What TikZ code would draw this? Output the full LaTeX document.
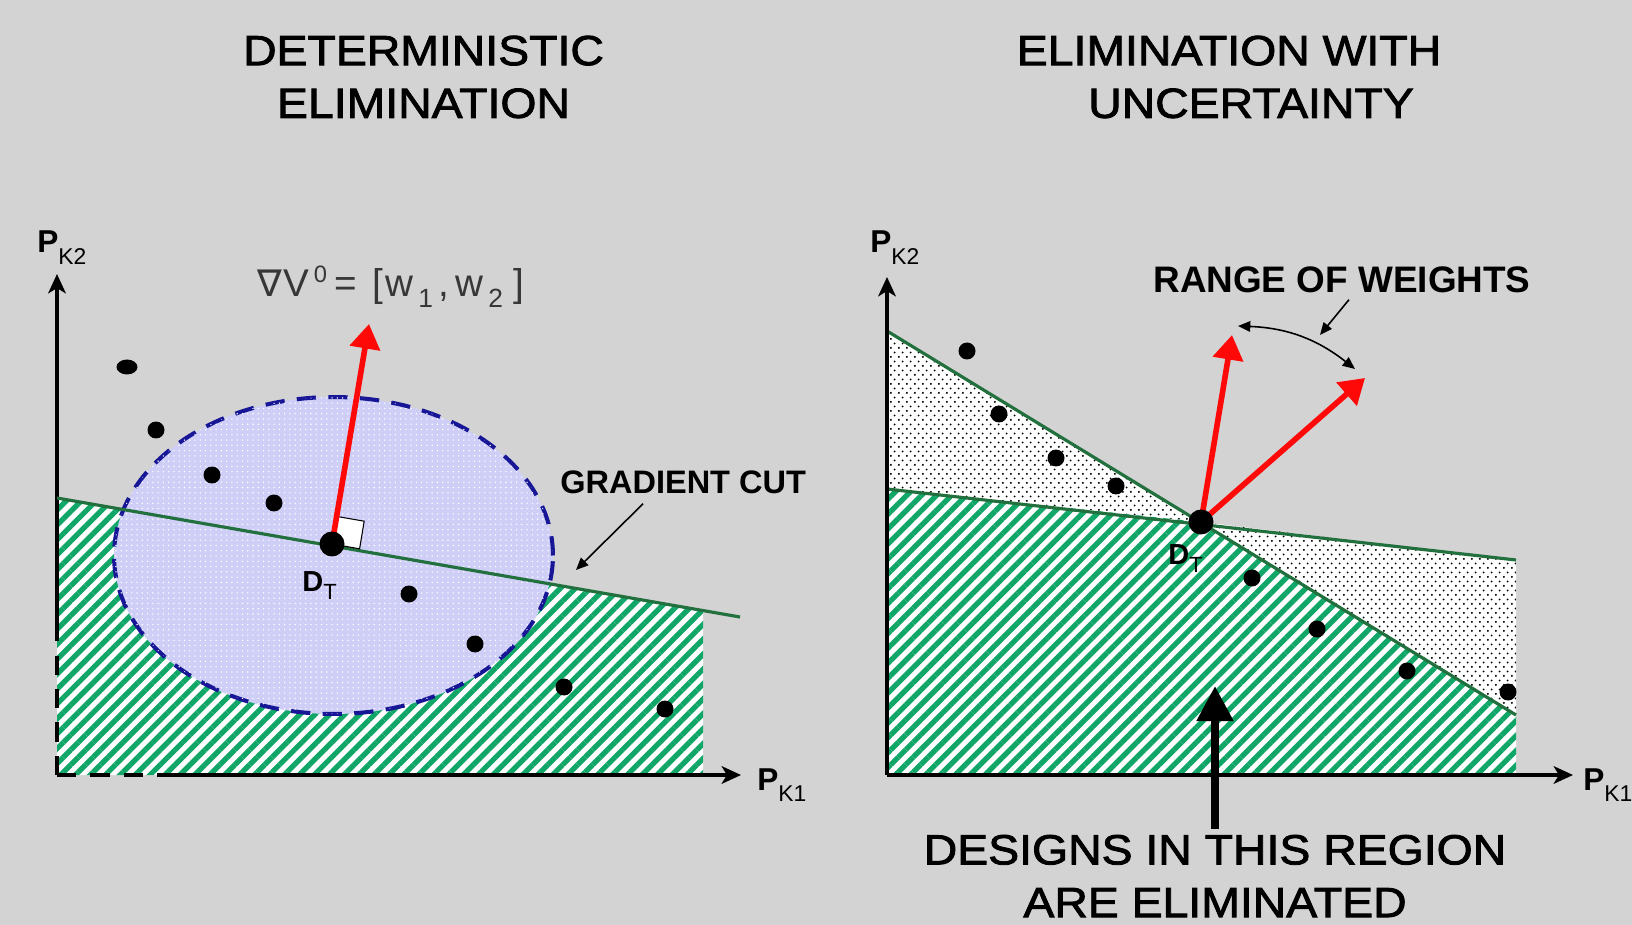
\documentclass[tikz,border=0pt]{standalone}
\usepackage{fontspec}
\setmainfont{Liberation Sans}
\newfontfamily\widesans[FakeStretch=1.1,FakeBold=2]{Liberation Sans}
\newfontfamily\dvsans{DejaVu Sans}
\usetikzlibrary{arrows.meta,positioning,patterns.meta,shapes.geometric}
\definecolor{bggray}{RGB}{211,211,211}
\definecolor{cutgreen}{RGB}{34,112,62}
\definecolor{hatchgreen}{RGB}{16,166,104}
\definecolor{ellblue}{RGB}{22,22,150}
\definecolor{ellfill}{RGB}{206,206,246}
\definecolor{gradred}{RGB}{255,8,8}
\definecolor{labgray}{RGB}{55,55,55}
\pgfdeclarepatternformonly{stagdots}{\pgfqpoint{0pt}{0pt}}{\pgfqpoint{4.4pt}{5pt}}{\pgfqpoint{4.4pt}{5pt}}{%
  \pgfpathcircle{\pgfqpoint{1.1pt}{1.25pt}}{0.62pt}%
  \pgfpathcircle{\pgfqpoint{3.3pt}{3.75pt}}{0.62pt}%
  \pgfusepath{fill}}
\newcommand{\axlab}[1]{{\fontsize{18}{20}\selectfont\bfseries P}\raisebox{-6.5pt}{\fontsize{13}{14}\selectfont #1}}
\newcommand{\dtlab}{{\fontsize{16.5}{18}\selectfont\bfseries D}\raisebox{-5pt}{\fontsize{12.5}{13}\selectfont T}}
\newcommand{\gsub}[1]{\raisebox{-5.7pt}{\fontsize{15}{15}\selectfont #1}}

\begin{document}
\begin{tikzpicture}[x=0.02cm, y=-0.02cm,
      axis/.style={line width=2.3pt, -{Stealth[length=11pt,width=10pt,inset=3pt]}},
      axisdash/.style={line width=2.3pt, dash pattern=on 11pt off 8pt},
      cut/.style={draw=cutgreen, line width=1.8pt},
      elim/.style={fill=white, postaction={pattern={Lines[angle=45,distance=6pt,line width=3pt]}, pattern color=hatchgreen}},
      undec/.style={fill=white, postaction={pattern=stagdots, pattern color=black}},
      design/.style={circle, fill=black, inner sep=0pt, minimum size=0.34cm},
      dtdot/.style={design, minimum size=0.5cm},
      grad/.style={draw=gradred, line width=3.2pt, -{Triangle[length=14pt,width=17pt]}},
      ptr/.style={line width=0.9pt, -{Triangle[length=7pt,width=6pt]}},
      big/.style={line width=4.5pt, -{Triangle[length=20pt,width=20pt]}},
      ttl/.style={font=\widesans\fontsize{24}{30}\selectfont, align=center},
      note/.style={font=\bfseries\fontsize{21}{24}\selectfont, anchor=base west, inner sep=0pt},
      lab/.style={anchor=base west, inner sep=0pt}
    ]
    \fill[bggray] (0,0) rectangle (1632,925);
    \useasboundingbox (0,0) rectangle (1632,925);

    % left panel: deterministic elimination
    \node[ttl] (ttlL) at (423.5,77) {DETERMINISTIC\\ELIMINATION};
    \coordinate (oL) at (57,775);
    \coordinate (yLd) at (57,625);
    \coordinate (yL) at (57,274);
    \coordinate (xLd) at (165,775);
    \coordinate (xL) at (741,775);
    \coordinate (cutL) at (57,498);
    \coordinate (cutR) at (740,617);
    \coordinate (dtLc) at (332,544);
    \coordinate (gL) at (369,324);
    \fill[elim] (cutL) -- (703,610.5) -- (703,775) -- (oL) -- cycle;
    \filldraw[fill=ellfill, draw=ellblue, line width=2.3pt, dash pattern=on 11pt off 7pt,
      postaction={pattern={Dots[distance=3pt,radius=0.45pt]}, pattern color=white}]
      (333.5,555.5) ellipse [x radius=4.39cm, y radius=3.17cm];
    \draw[axisdash] (oL) -- (yLd);
    \draw[axis] (yLd) -- (yL);
    \draw[axisdash] (oL) -- (xLd);
    \draw[axis] (xLd) -- (xL);
    \draw[cut] (cutL) -- (cutR);
    \filldraw[fill=white, draw=black, line width=0.6pt] (dtLc) -- (336.6,516.4) -- (364.2,521.2) -- (359.6,548.8) -- cycle;
    \draw[grad] (dtLc) -- (gL);
    \node[dtdot] (dtL) at (dtLc) {};
    \node[design, ellipse, minimum width=0.42cm, minimum height=0.3cm] (dL1) at (127,367) {};
    \node[design] (dL2) at (156,430) {};
    \node[design] (dL3) at (212,475) {};
    \node[design] (dL4) at (274,503) {};
    \node[design] (dL5) at (409,594) {};
    \node[design] (dL6) at (475,644) {};
    \node[design] (dL7) at (564,687) {};
    \node[design] (dL8) at (665,709) {};
    \node[lab] (dtLab) at (302,591) {\dtlab};
    \node[lab] (pk2L) at (37,253) {\axlab{K2}};
    \node[lab] (pk1L) at (757,790) {\axlab{K1}};
    \node[lab, text=labgray, font=\fontsize{22}{24}\selectfont] (gradLab) at (257,297)
      {{\dvsans\fontsize{21}{24}\selectfont ∇}\hspace{1pt}V\hspace{2.5pt}\raisebox{8.5pt}{\fontsize{13.5}{14}\selectfont 0}\hspace{4pt}=\hspace{9pt}[\hspace{1.5pt}w\hspace{2.5pt}\gsub{1}\hspace{3pt},\hspace{4pt}w\hspace{2.5pt}\gsub{2}\hspace{6pt}]};
    \node[note, font=\bfseries\fontsize{18.5}{20}\selectfont] (gcut) at (560,493) {GRADIENT CUT};
    \coordinate (gcutTip) at (576,570);
    \draw[ptr] ([xshift=-0.8cm,yshift=-0.2cm]gcut.south) -- (gcutTip);

    % right panel: elimination with uncertainty
    \node[ttl] (ttlR) at (1229,77) {ELIMINATION WITH\\\hspace*{0.88cm}UNCERTAINTY};
    \coordinate (oR) at (887,775);
    \coordinate (yR) at (887,277);
    \coordinate (xR) at (1573,775);
    \coordinate (dtRc) at (1201,522);
    \coordinate (stL) at (887,331);
    \coordinate (stR) at (1516,715);
    \coordinate (shL) at (887,489);
    \coordinate (shR) at (1516,560);
    \fill[undec] (stL) -- (dtRc) -- (shL) -- cycle;
    \fill[undec] (dtRc) -- (shR) -- (stR) -- cycle;
    \fill[elim] (shL) -- (dtRc) -- (stR) -- (1516,775) -- (oR) -- cycle;
    \draw[cut] (stL) -- (stR);
    \draw[cut] (shL) -- (shR);
    \draw[axis] (oR) -- (yR);
    \draw[axis] (oR) -- (xR);
    \coordinate (gR1) at (1232,335);
    \coordinate (gR2) at (1365,378);
    \draw[grad] (dtRc) -- (gR1);
    \draw[grad] (dtRc) -- (gR2);
    \node[dtdot] (dtR) at (dtRc) {};
    \node[design] (dR1) at (967,351) {};
    \node[design] (dR2) at (999,414) {};
    \node[design] (dR3) at (1056,458) {};
    \node[design] (dR4) at (1116,486) {};
    \node[design] (dR5) at (1252,578) {};
    \node[design] (dR6) at (1317,629) {};
    \node[design] (dR7) at (1407,671) {};
    \node[design] (dR8) at (1508,692) {};
    \node[lab] (dtRLab) at (1168,564) {\dtlab};
    \node[lab] (pk2R) at (870,253) {\axlab{K2}};
    \node[lab] (pk1R) at (1583,790) {\axlab{K1}};
    \node[note] (rng) at (1153,293) {RANGE OF WEIGHTS};
    \coordinate (rw1) at (1238,326);
    \coordinate (rw2) at (1355,369);
    \coordinate (rngTip) at (1320,335);
    \draw[ptr, {Triangle[length=7pt,width=6pt]}-{Triangle[length=7pt,width=6pt]}] (rw1) to[bend left=18] (rw2);
    \draw[ptr] ([xshift=0.14cm,yshift=-0.12cm]rng.south) -- (rngTip);
    \node[ttl] (elimLab) at (1215,876) {DESIGNS IN THIS REGION\\ARE ELIMINATED};
    \coordinate (elimTip) at (1215,686);
    \draw[big] (elimLab.north) -- (elimTip);
  \end{tikzpicture}
\end{document}
